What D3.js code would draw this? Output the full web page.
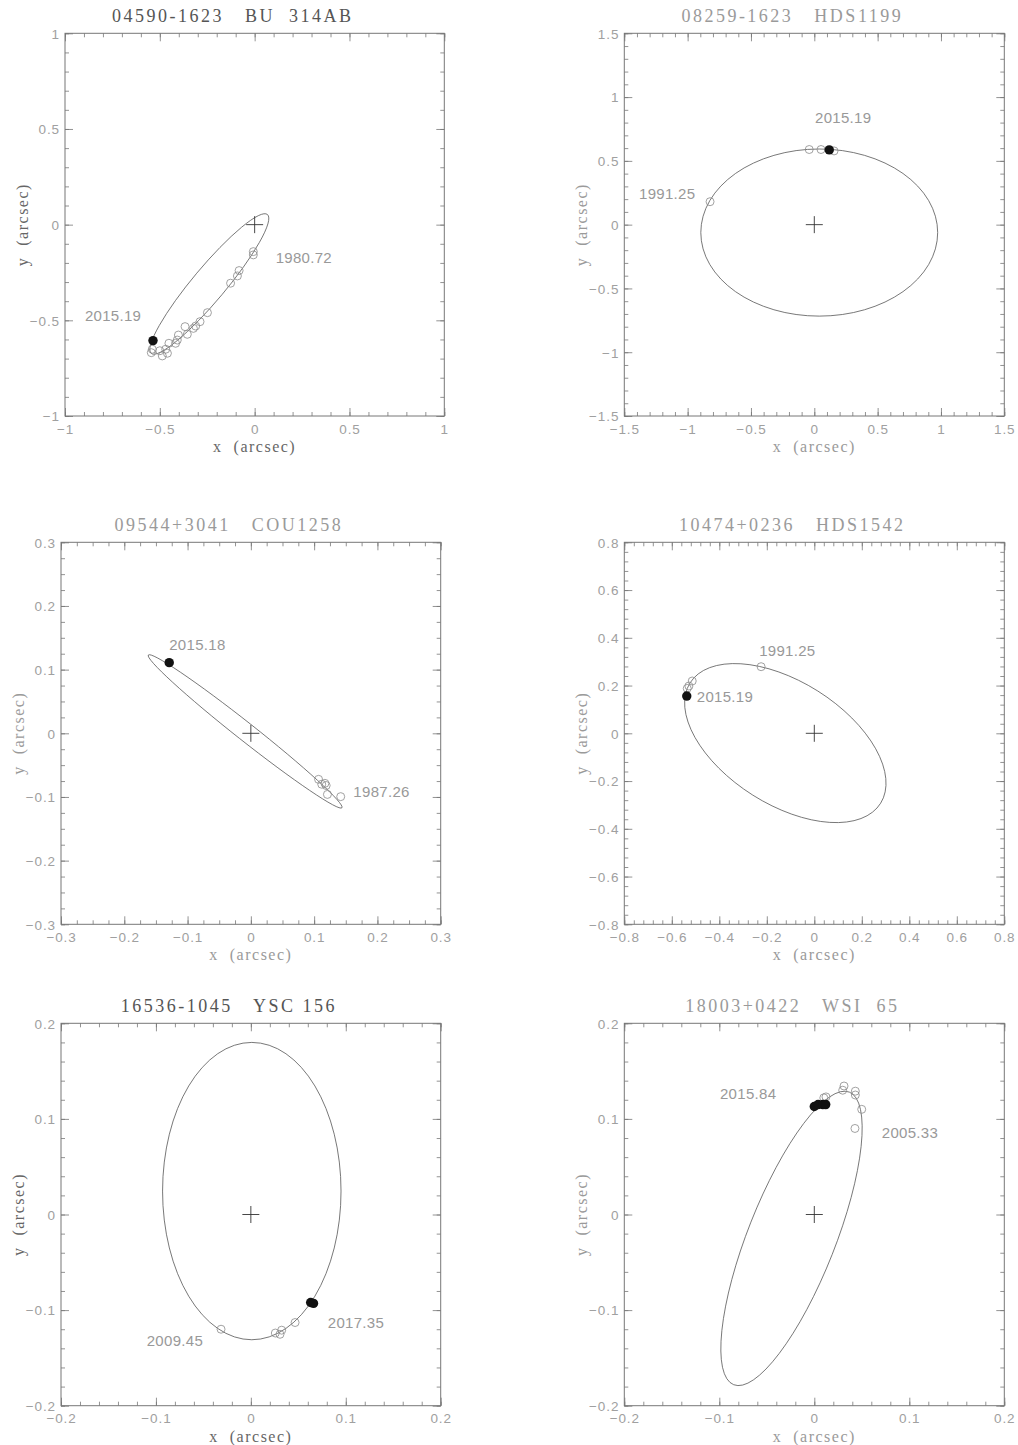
<!DOCTYPE html>
<html><head><meta charset="utf-8">
<script src="https://cdn.jsdelivr.net/npm/d3@7"></script>
<style>body{margin:0;background:#fff} svg{display:block}</style>
</head><body>
<svg id="c" width="1018" height="1445"></svg>
<script>
// ---------------- data ----------------
const titles = [
  "04590-1623   BU  314AB",
  "08259-1623   HDS1199",
  "09544+3041   COU1258",
  "10474+0236   HDS1542",
  "16536-1045   YSC 156",
  "18003+0422   WSI  65"
];
const axisLimits = [1, 1.5, 0.3, 0.8, 0.2, 0.2];
const majorTicks = [
  [-1, -0.5, 0, 0.5, 1],
  [-1.5, -1, -0.5, 0, 0.5, 1, 1.5],
  [-0.3, -0.2, -0.1, 0, 0.1, 0.2, 0.3],
  [-0.8, -0.6, -0.4, -0.2, 0, 0.2, 0.4, 0.6, 0.8],
  [-0.2, -0.1, 0, 0.1, 0.2],
  [-0.2, -0.1, 0, 0.1, 0.2]
];
const minorStep = [0.1, 0.1, 0.025, 0.04, 0.02, 0.02];

// apparent orbit ellipses (arcsec, degrees CCW from +x)
const orbitCx    = [-0.239, 0.039, -0.009, -0.122, 0.001, -0.024];
const orbitCy    = [-0.310, -0.062, 0.003, -0.041, 0.0245, -0.025];
const orbitA     = [0.475, 0.935, 0.1944, 0.4738, 0.094, 0.1647];
const orbitB     = [0.087, 0.655, 0.0142, 0.2574, 0.1555, 0.046];
const orbitAngle = [49.8, 0, -38.1, -32.1, 0, 68.3];

// past measurements (open circles)
const obsX = [
  [-0.007, -0.007, -0.082, -0.091, -0.127, -0.249, -0.288, -0.311, -0.323, -0.367, -0.355, -0.402, -0.408, -0.417, -0.452, -0.469, -0.460, -0.487, -0.500, -0.540, -0.545],
  [-0.040, 0.053, 0.156, -0.823],
  [0.107, 0.112, 0.117, 0.119, 0.121, 0.142],
  [-0.535, -0.528, -0.514, -0.224],
  [-0.0314, 0.0258, 0.0307, 0.0325, 0.0466],
  [0.010, 0.0123, 0.0313, 0.0299, 0.0432, 0.0432, 0.0499, 0.0428]
];
const obsY = [
  [-0.141, -0.158, -0.240, -0.268, -0.306, -0.460, -0.507, -0.530, -0.542, -0.533, -0.573, -0.577, -0.603, -0.620, -0.620, -0.651, -0.672, -0.686, -0.659, -0.651, -0.669],
  [0.589, 0.589, 0.578, 0.180],
  [-0.0723, -0.080, -0.0786, -0.082, -0.096, -0.0995],
  [0.188, 0.198, 0.219, 0.279],
  [-0.120, -0.124, -0.1253, -0.121, -0.113],
  [0.122, 0.123, 0.1344, 0.130, 0.129, 0.125, 0.110, 0.090]
];
// new measurements (filled circles)
const newX = [[-0.536], [0.118], [-0.129], [-0.537], [0.063, 0.066], [0.000, 0.004, 0.009, 0.012]];
const newY = [[-0.606], [0.586], [0.111], [0.156], [-0.092, -0.093], [0.113, 0.115, 0.115, 0.115]];

// epoch annotations (left x, baseline y, in arcsec)
const noteText = [["2015.19", "1980.72"], ["2015.19", "1991.25"], ["2015.18", "1987.26"],
                  ["2015.19", "1991.25"], ["2017.35", "2009.45"], ["2015.84", "2005.33"]];
const noteX = [[-0.895, 0.111], [0.006, -1.384], [-0.129, 0.162], [-0.495, -0.232], [0.081, -0.1097], [-0.0993, 0.071]];
const noteY = [[-0.503, -0.199], [0.800, 0.200], [0.131, -0.0995], [0.132, 0.324], [-0.119, -0.138], [0.1208, 0.0803]];

// ---------------- layout / style ----------------
const boxes = [
  {l: 65, r: 444.3, t: 33.3, b: 416},
  {l: 624.3, r: 1004.3, t: 33.3, b: 416},
  {l: 61, r: 440.7, t: 542.3, b: 924.3},
  {l: 624.3, r: 1004.3, t: 542.3, b: 924.3},
  {l: 61, r: 440.7, t: 1023.3, b: 1405.7},
  {l: 624.3, r: 1004.3, t: 1023.3, b: 1405.7}
];
const titleColor = ["#555", "#9a9a9a", "#9a9a9a", "#9a9a9a", "#555", "#9a9a9a"];
const labColor = ["#666", "#9a9a9a", "#9a9a9a", "#9a9a9a", "#666", "#9a9a9a"];
const frameColor = "#777";
const tickLabColor = "#a0a0a0";

const svg = d3.select("#c");
const fmt = v => String(+v.toFixed(4)).replace("-", "\u2212");

boxes.forEach((bx, i) => {
  const R = axisLimits[i];
  const x = d3.scaleLinear().domain([-R, R]).range([bx.l, bx.r]);
  const y = d3.scaleLinear().domain([-R, R]).range([bx.b, bx.t]);
  const g = svg.append("g");
  const minor = d3.range(-R, R + minorStep[i] / 2, minorStep[i]).map(v => +v.toFixed(5));

  // axes (ticks inward on all four sides)
  const mk = (axisFn, scale, vals, size, labels) =>
    axisFn(scale).tickValues(vals).tickSizeInner(-size).tickSizeOuter(0)
      .tickPadding(0).tickFormat(labels ? fmt : "");
  const addAxis = (axisFn, scale, transform, labels) => {
    const a1 = g.append("g").attr("transform", transform).call(mk(axisFn, scale, minor, 4, false));
    const a2 = g.append("g").attr("transform", transform).call(mk(axisFn, scale, majorTicks[i], 8, labels));
    [a1, a2].forEach(a => {
      a.select(".domain").remove();
      a.selectAll("line").attr("stroke", frameColor).attr("stroke-width", 0.8);
    });
    return a2;
  };
  const bottom = addAxis(d3.axisBottom, x, `translate(0,${bx.b})`, true);
  addAxis(d3.axisTop, x, `translate(0,${bx.t})`, false);
  const left = addAxis(d3.axisLeft, y, `translate(${bx.l},0)`, true);
  addAxis(d3.axisRight, y, `translate(${bx.r},0)`, false);

  bottom.selectAll("text").attr("y", 17.5).attr("dy", null);
  left.selectAll("text").attr("x", -5).attr("dy", "0.36em");
  [bottom, left].forEach(a => a.selectAll("text")
    .attr("fill", tickLabColor).attr("font-family", "Liberation Sans, Arial, sans-serif")
    .attr("font-size", 13.5).attr("letter-spacing", "0.9px"));

  // frame
  g.append("rect").attr("x", bx.l).attr("y", bx.t)
    .attr("width", bx.r - bx.l).attr("height", bx.b - bx.t)
    .attr("fill", "none").attr("stroke", frameColor).attr("stroke-width", 1);

  // title and axis labels
  g.append("text").attr("x", (bx.l + bx.r) / 2 - 22).attr("y", bx.t - 11.5)
    .attr("text-anchor", "middle").style("white-space", "pre")
    .attr("font-family", "Liberation Serif, Times New Roman, serif").attr("font-size", 18)
    .attr("letter-spacing", "2.5px").attr("fill", titleColor[i]).text(titles[i]);
  g.append("text").attr("x", (bx.l + bx.r) / 2).attr("y", bx.b + 36)
    .attr("text-anchor", "middle").style("white-space", "pre")
    .attr("font-family", "Liberation Serif, Times New Roman, serif").attr("font-size", 16)
    .attr("letter-spacing", "1.5px").attr("fill", labColor[i]).text("x  (arcsec)");
  g.append("text").attr("transform", `translate(${bx.l - 37},${(bx.t + bx.b) / 2}) rotate(-90)`)
    .attr("text-anchor", "middle").style("white-space", "pre")
    .attr("font-family", "Liberation Serif, Times New Roman, serif").attr("font-size", 16)
    .attr("letter-spacing", "1.5px").attr("fill", labColor[i]).text("y  (arcsec)");

  // orbit ellipse in data coordinates
  const kx = x(1) - x(0), ky = y(1) - y(0);
  g.append("g").attr("transform", `translate(${x(0)},${y(0)}) scale(${kx},${ky})`)
    .append("ellipse")
    .attr("cx", orbitCx[i]).attr("cy", orbitCy[i])
    .attr("rx", orbitA[i]).attr("ry", orbitB[i])
    .attr("transform", `rotate(${orbitAngle[i]},${orbitCx[i]},${orbitCy[i]})`)
    .attr("fill", "none").attr("stroke", "#555").attr("stroke-width", 0.8)
    .attr("vector-effect", "non-scaling-stroke");

  // primary star cross
  const x0 = x(0), y0 = y(0);
  g.append("path").attr("d", `M${x0 - 8.5},${y0}h17M${x0},${y0 - 8.5}v17`)
    .attr("stroke", "#333").attr("stroke-width", 0.9).attr("fill", "none");

  // open circles
  g.selectAll("circle.obs").data(obsX[i].map((v, j) => [v, obsY[i][j]])).enter()
    .append("circle").attr("class", "obs")
    .attr("cx", d => x(d[0])).attr("cy", d => y(d[1])).attr("r", 4)
    .attr("fill", "none").attr("stroke", "#8a8a8a").attr("stroke-width", 0.8);

  // filled circles
  g.selectAll("circle.new").data(newX[i].map((v, j) => [v, newY[i][j]])).enter()
    .append("circle").attr("class", "new")
    .attr("cx", d => x(d[0])).attr("cy", d => y(d[1])).attr("r", 4.7)
    .attr("fill", "#111");

  // epoch notes
  g.selectAll("text.note").data(noteText[i].map((t, j) => [t, noteX[i][j], noteY[i][j]])).enter()
    .append("text").attr("class", "note")
    .attr("x", d => x(d[1])).attr("y", d => y(d[2]))
    .attr("font-family", "Liberation Sans, Arial, sans-serif").attr("font-size", 15)
    .attr("letter-spacing", "0.3px").attr("fill", "#999").text(d => d[0]);
});
</script>
</body></html>
